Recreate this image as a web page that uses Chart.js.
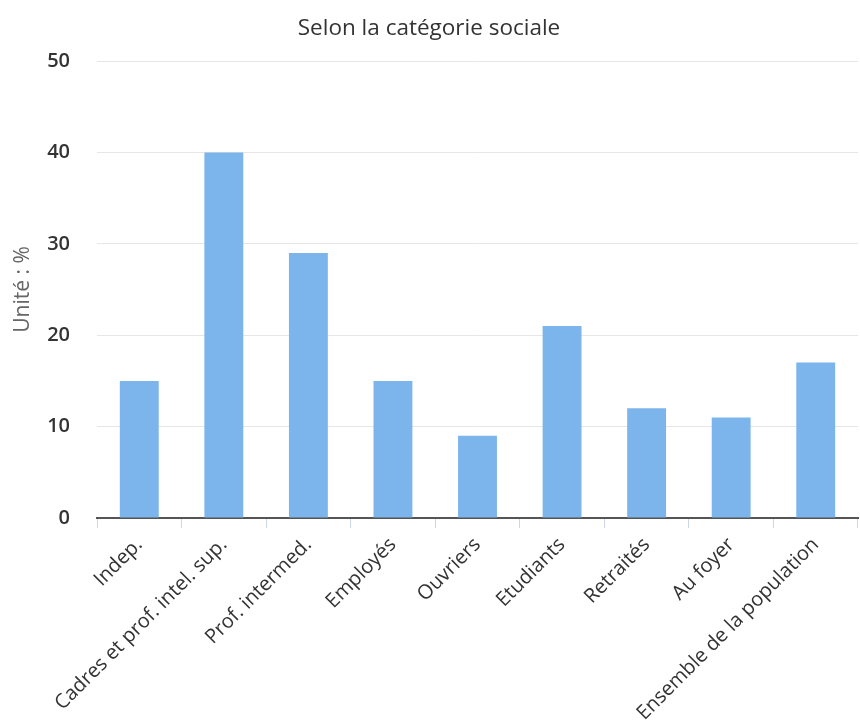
<!DOCTYPE html>
<html>
<head>
<meta charset="utf-8">
<script src="https://cdn.jsdelivr.net/npm/chart.js@4/dist/chart.umd.min.js"></script>
<style>
html,body{margin:0;padding:0;background:#fff;}
#wrap{width:860px;height:725px;}
</style>
</head>
<body>
<div id="wrap"><canvas id="c" width="860" height="725"></canvas></div>
<script>
const categories = ["Indep.", "Cadres et prof. intel. sup.", "Prof. intermed.", "Employés", "Ouvriers", "Etudiants", "Retraités", "Au foyer", "Ensemble de la population"];
const values = [15, 40, 29, 15, 9, 21, 12, 11, 17];
const yTicks = [0, 10, 20, 30, 40, 50];
const chartTitle = "Selon la catégorie sociale";
const yTitle = "Unité : %";

const FONT = "'Open Sans', 'DejaVu Sans', sans-serif";

new Chart(document.getElementById('c'), {
  type: 'bar',
  data: {
    labels: categories,
    datasets: [{
      data: values,
      backgroundColor: '#7cb5ec',
      borderWidth: 0,
      barPercentage: 0.46,
      categoryPercentage: 1.0
    }]
  },
  options: {
    responsive: false,
    animation: false,
    devicePixelRatio: 1,
    layout: { padding: { left: 0, right: 2, top: 0, bottom: 0 } },
    plugins: {
      legend: { display: false },
      tooltip: { enabled: false },
      title: {
        display: true,
        text: chartTitle,
        color: '#333333',
        font: { family: FONT, size: 22.5, weight: 'normal', lineHeight: 1.2 },
        padding: { top: 15, bottom: 19 }
      }
    },
    scales: {
      x: {
        afterFit: s => { s.height = 207; },
        grid: {
          display: true,
          drawOnChartArea: false,
          drawTicks: true,
          tickLength: 10,
          color: '#ccd6eb',
          offset: true
        },
        border: { display: true, color: '#555555', width: 2 },
        ticks: {
          autoSkip: false,
          maxRotation: 45,
          minRotation: 45,
          padding: 5,
          color: '#333333',
          font: { family: FONT, size: 20 }
        }
      },
      y: {
        min: 0,
        max: 50,
        afterFit: s => { s.width = 97; },
        afterBuildTicks: s => { s.ticks = yTicks.map(v => ({ value: v })); },
        grid: { color: '#e6e6e6', drawTicks: false, lineWidth: 1 },
        border: { display: false },
        ticks: {
          padding: 27,
          color: '#333333',
          font: { family: FONT, size: 20, weight: '600' }
        },
        title: {
          display: true,
          text: yTitle,
          color: '#666666',
          font: { family: FONT, size: 21 },
          padding: { top: 10, bottom: 0 }
        }
      }
    }
  }
});
</script>
</body>
</html>
